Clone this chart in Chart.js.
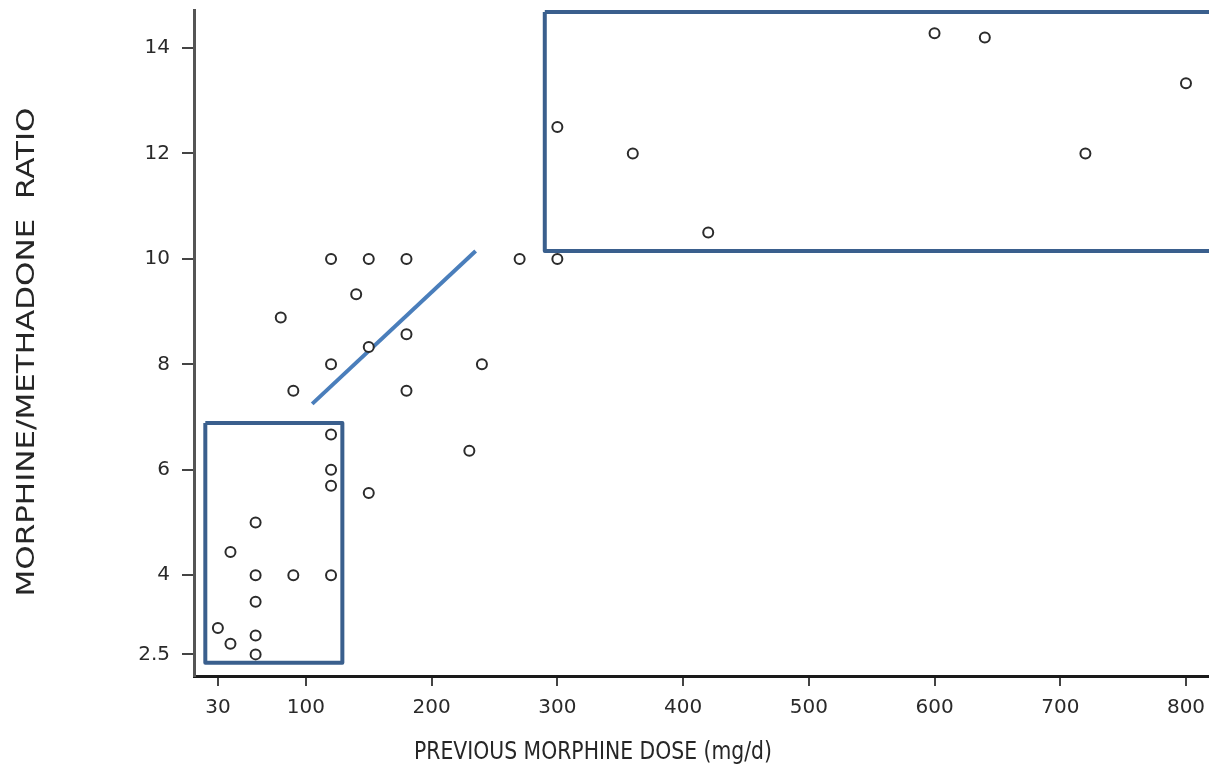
<!DOCTYPE html>
<html>
<head>
<meta charset="utf-8">
<script src="https://cdn.jsdelivr.net/npm/chart.js@4/dist/chart.umd.min.js"></script>
<style>
  html, body { margin: 0; padding: 0; background: #fff; overflow: hidden; }
  #wrap { width: 1209px; height: 766px; position: relative; overflow: hidden; }
  #c { position: absolute; left: 0; top: -14px; }
</style>
</head>
<body>
<div id="wrap"><canvas id="c" width="1240" height="780"></canvas></div>
<script>
// ---- data ----
const doseMgPerDay = [30, 40, 40, 60, 60, 60, 60, 60, 90, 120,
                      120, 120, 120, 150, 120, 90, 80, 120, 140, 150,
                      150, 180, 180, 180, 240, 230, 270, 300, 300, 360,
                      420, 600, 640, 720, 800];
const ratio        = [3.0, 2.7, 4.44, 2.5, 2.86, 3.5, 4, 5, 4, 4,
                      5.7, 6, 6.67, 5.56, 8, 7.5, 8.89, 10, 9.33, 10,
                      8.33, 10, 8.57, 7.5, 8, 6.36, 10, 10, 12.5, 12,
                      10.5, 14.28, 14.2, 12, 13.33];
const xTickValues = [30, 100, 200, 300, 400, 500, 600, 700, 800];
const yTickValues = [2.5, 4, 6, 8, 10, 12, 14];
const xTitle = 'PREVIOUS MORPHINE DOSE (mg/d)';
const yTitle = 'MORPHINE/METHADONE  RATIO';
// highlight shapes (data coordinates)
const lowBoxX  = [20, 129, 129, 20, 20];
const lowBoxY  = [6.89, 6.89, 2.34, 2.34, 6.89];
const highBoxX = [290, 840, 840, 290, 290];
const highBoxY = [14.68, 14.68, 10.15, 10.15, 14.68];
const trendX = [105, 235];
const trendY = [7.25, 10.15];
</script>
<script>
const pts = doseMgPerDay.map((x, i) => ({ x, y: ratio[i] }));
const toPts = (xs, ys) => xs.map((x, i) => ({ x, y: ys[i] }));
const CANVAS_SHIFT = 14;

const titlePlugin = {
  id: 'titles',
  afterDraw(chart) {
    const ctx = chart.ctx;
    ctx.save();
    ctx.fillStyle = '#262626';
    ctx.font = '25px "DejaVu Sans"';
    ctx.textAlign = 'center';
    ctx.textBaseline = 'middle';
    let w = ctx.measureText(xTitle).width;
    ctx.translate(593, 752 + CANVAS_SHIFT);
    ctx.scale(358 / w, 1);
    ctx.fillText(xTitle, 0, 0);
    ctx.restore();

    ctx.save();
    ctx.fillStyle = '#262626';
    ctx.font = '25px "DejaVu Sans"';
    ctx.textAlign = 'center';
    ctx.textBaseline = 'middle';
    w = ctx.measureText(yTitle).width;
    ctx.translate(27, 352 + CANVAS_SHIFT);
    ctx.rotate(-Math.PI / 2);
    ctx.scale(489 / w, 1);
    ctx.fillText(yTitle, 0, 0);
    ctx.restore();
  }
};

const tickFont = { family: '"DejaVu Sans"', size: 20 };

new Chart(document.getElementById('c'), {
  type: 'scatter',
  data: {
    datasets: [
      {
        label: 'patients',
        data: pts,
        pointStyle: 'circle',
        pointRadius: 5,
        pointBorderWidth: 2,
        borderColor: '#2b2b2b',
        backgroundColor: '#ffffff',
        order: 0
      },
      {
        label: 'low box',
        type: 'line',
        data: toPts(lowBoxX, lowBoxY),
        borderColor: '#3a5f8d',
        borderWidth: 4,
        pointRadius: 0,
        fill: false,
        tension: 0,
        borderJoinStyle: 'round',
        order: 1
      },
      {
        label: 'high box',
        type: 'line',
        data: toPts(highBoxX, highBoxY),
        borderColor: '#3a5f8d',
        borderWidth: 4,
        pointRadius: 0,
        fill: false,
        tension: 0,
        borderJoinStyle: 'round',
        order: 1
      },
      {
        label: 'trend',
        type: 'line',
        data: toPts(trendX, trendY),
        borderColor: '#4a7ebb',
        borderWidth: 4,
        pointRadius: 0,
        fill: false,
        order: 1
      }
    ]
  },
  options: {
    responsive: false,
    animation: false,
    layout: { padding: { top: 0, left: 0, right: 31, bottom: 0 } },
    plugins: { legend: { display: false }, tooltip: { enabled: false } },
    scales: {
      x: {
        type: 'linear',
        min: 11,
        max: 818.3,
        afterBuildTicks(scale) { scale.ticks = xTickValues.map(v => ({ value: v })); },
        afterFit(scale) { scale.height = 90; },
        ticks: { font: tickFont, color: '#2a2a2a', padding: 10, autoSkip: false, maxRotation: 0,
                 callback: v => String(v) },
        grid: { drawOnChartArea: false, drawTicks: true, tickLength: 10, color: '#444', lineWidth: 2 },
        border: { display: true, color: '#1a1a1a', width: 3 }
      },
      y: {
        type: 'linear',
        min: 2.09,
        max: 14.72,
        afterBuildTicks(scale) { scale.ticks = yTickValues.map(v => ({ value: v })); },
        afterFit(scale) { scale.width = 194; },
        ticks: { font: tickFont, color: '#2a2a2a', padding: 12, autoSkip: false,
                 callback: v => String(v) },
        grid: { drawOnChartArea: false, drawTicks: true, tickLength: 12, color: '#444', lineWidth: 2 },
        border: { display: true, color: '#555', width: 3 }
      }
    }
  },
  plugins: [titlePlugin]
});
</script>
</body>
</html>
